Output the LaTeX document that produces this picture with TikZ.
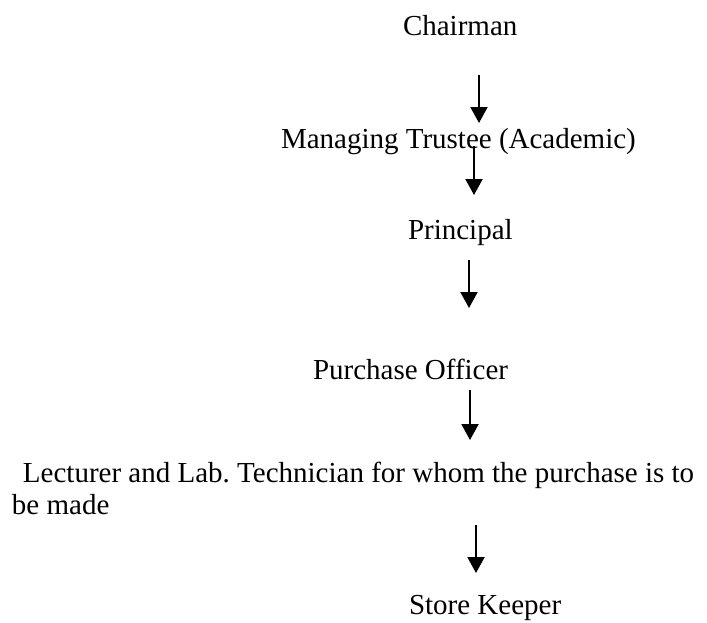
\documentclass[tikz,border=0pt]{standalone}
\usepackage{fontspec}
\setmainfont{Liberation Serif}
\usetikzlibrary{arrows.meta}
\tikzset{
  lbl/.style={anchor=base west, inner sep=0pt, outer sep=0pt, font=\fontsize{29}{32.5}\selectfont},
  arr/.style={line width=2pt, -{Triangle[width=17pt,length=16pt]}}
}
\begin{document}
\frenchspacing
\begin{tikzpicture}[x=1pt,y=-1pt]
\useasboundingbox (0,0) rectangle (707,622);
\node[lbl] (chair) at (403,35) {Chairman};
\node[lbl] (mt) at (281,148) {Managing Trustee (Academic)};
\node[lbl] (prin) at (408,239) {Principal};
\node[lbl] (po) at (313,379) {Purchase Officer};
\node[lbl] (lec) at (12,482) {\frenchspacing\baselineskip=32pt\vtop{\hbox{\hspace*{11pt}Lecturer and Lab.\ Technician for whom the purchase is to}\hbox{be made}}};
\node[lbl] (sk) at (409,614) {Store Keeper};
\coordinate (a1s) at (479,75);  \coordinate (a1e) at (479,123);
\coordinate (a2s) at (474,146); \coordinate (a2e) at (474,195);
\coordinate (a3s) at (469,260); \coordinate (a3e) at (469,308);
\coordinate (a4s) at (470,390); \coordinate (a4e) at (470,440);
\coordinate (a5s) at (476,525); \coordinate (a5e) at (476,573);
\draw[arr] (a1s) -- (a1e);
\draw[arr] (a2s) -- (a2e);
\draw[arr] (a3s) -- (a3e);
\draw[arr] (a4s) -- (a4e);
\draw[arr] (a5s) -- (a5e);
\end{tikzpicture}
\end{document}
